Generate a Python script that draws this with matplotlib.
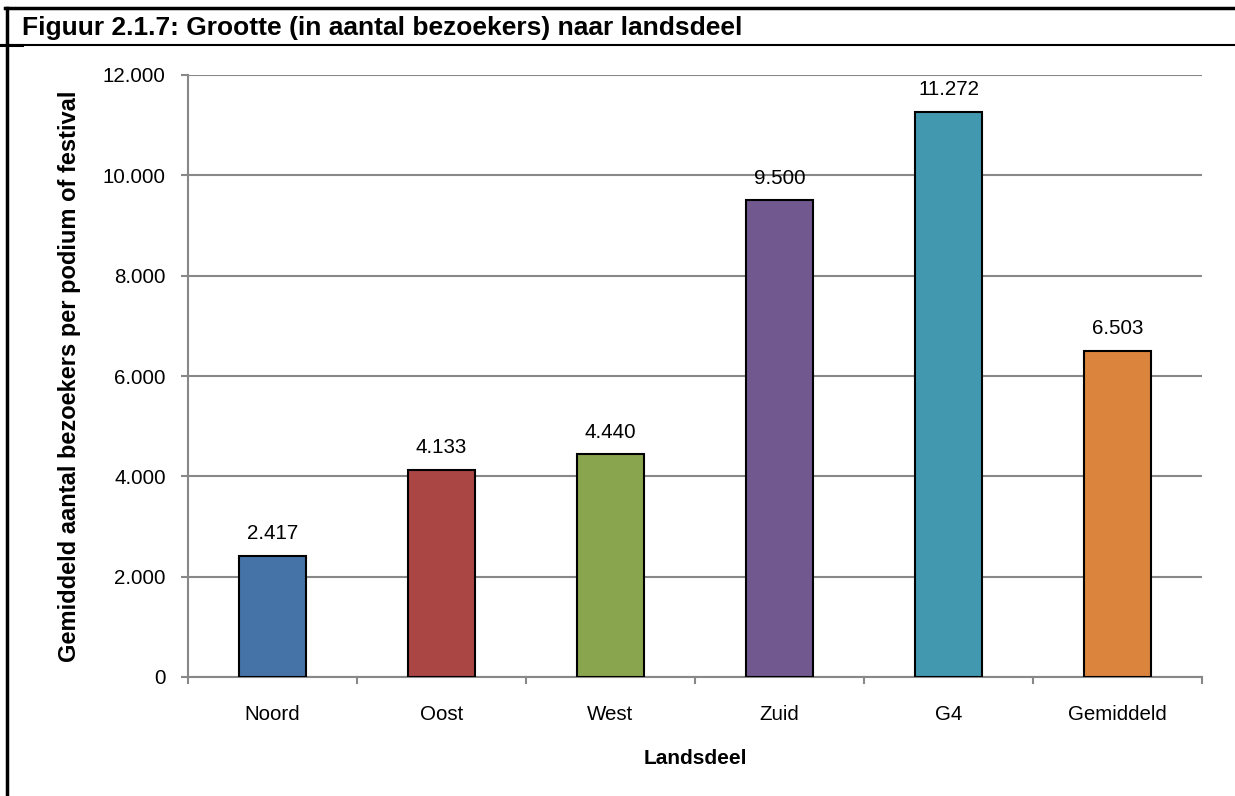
import matplotlib
matplotlib.use("Agg")
import matplotlib.pyplot as plt
from matplotlib.lines import Line2D

plt.rcParams['font.family'] = ['Liberation Sans', 'DejaVu Sans']

# Data
categories = ['Noord', 'Oost', 'West', 'Zuid', 'G4', 'Gemiddeld']
values = [2417, 4133, 4440, 9500, 11272, 6503]
colors = ['#4572A7', '#AA4643', '#89A54E', '#71588F', '#4198AF', '#DB843D']
y_ticks = [0, 2000, 4000, 6000, 8000, 10000, 12000]

title = 'Figuur 2.1.7: Grootte (in aantal bezoekers) naar landsdeel'
x_label = 'Landsdeel'
y_label = 'Gemiddeld aantal bezoekers per podium of festival'


def nl_fmt(v):
    return f"{v:,.0f}".replace(',', '.')


W, H = 1235, 796
fig = plt.figure(figsize=(W / 100, H / 100), dpi=100)
ax = fig.add_axes([188 / W, 1 - 677 / H, (1202 - 188) / W, (677 - 75) / H])

x = range(len(categories))
bars = ax.bar(x, values, width=0.4, color=colors, edgecolor='black', linewidth=1.5, zorder=3)

for xi, v in zip(x, values):
    ax.annotate(nl_fmt(v), (xi, v), xytext=(0, 22), textcoords='offset pixels',
                ha='center', va='center', fontsize=14.8, zorder=4)

ax.set_xlim(-0.5, len(categories) - 0.5)
ax.set_ylim(0, 12000)
ax.set_yticks(y_ticks)
ax.set_yticklabels([nl_fmt(t) for t in y_ticks], fontsize=14.8)
ax.set_xticks(x)
ax.set_xticklabels(categories, fontsize=14.8)
ax.tick_params(axis='x', length=0, pad=20)
ax.tick_params(axis='y', length=5, width=1.5, color='#888888', pad=11)

# category boundary ticks on the x axis
for b in [i - 0.5 for i in range(len(categories) + 1)]:
    ax.plot([b, b], [0, -120], color='#888888', lw=1.5, clip_on=False, zorder=2)

ax.grid(axis='y', color='#888888', linewidth=1.5, zorder=0)
for s in ['top', 'right']:
    ax.spines[s].set_visible(False)
for s in ['left', 'bottom']:
    ax.spines[s].set_color('#888888')
    ax.spines[s].set_linewidth(1.5)

ax.set_xlabel(x_label, fontsize=15, fontweight='bold', labelpad=18)
ax.set_ylabel(y_label, fontsize=17, fontweight='bold', labelpad=16)

# frame around the figure
fig.add_artist(Line2D([5 / W, 1], [1 - 8 / H, 1 - 8 / H], color='black', lw=2.5))
fig.add_artist(Line2D([7 / W, 7 / W], [0, 1 - 8 / H], color='black', lw=2.5))
fig.add_artist(Line2D([0, 1], [1 - 45 / H, 1 - 45 / H], color='black', lw=1.5))
fig.add_artist(Line2D([0, 22 / W], [1 - 45 / H, 1 - 45 / H], color='black', lw=2.2))
fig.text(22 / W, 1 - 28 / H, title, fontsize=19, fontweight='bold', va='center', ha='left')

fig.savefig('out.png', dpi=100)
